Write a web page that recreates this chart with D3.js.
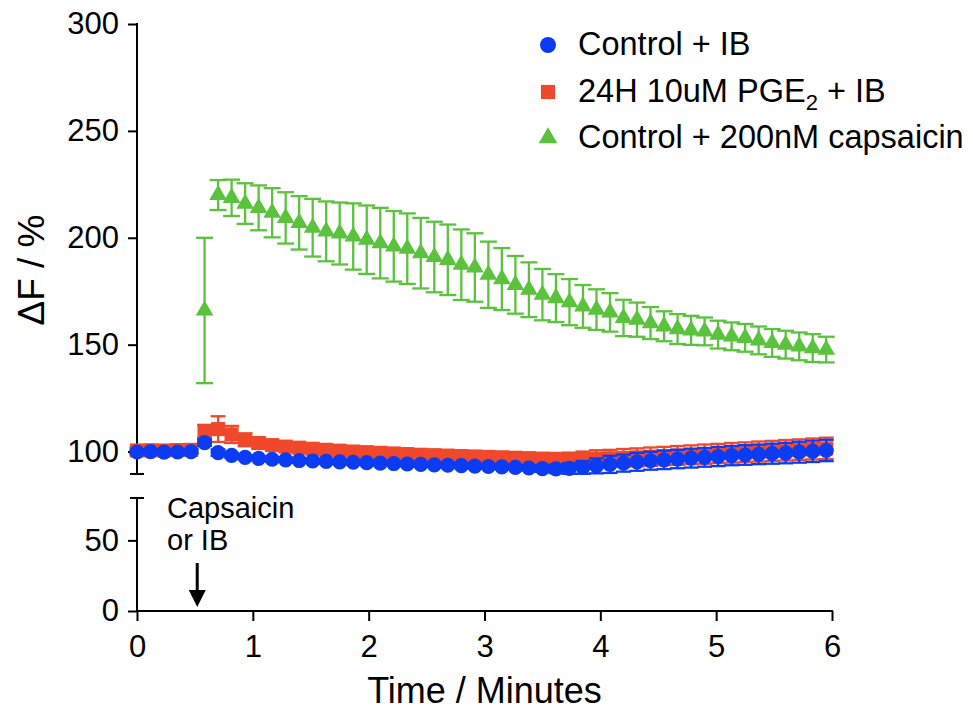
<!DOCTYPE html>
<html>
<head>
  <meta charset="utf-8">
  <script src="https://d3js.org/d3.v7.min.js"></script>
  <style>
    body { margin: 0; background: white; }
    svg { display: block; font-family: "Liberation Sans", Arial, Helvetica, sans-serif; }
    .axis path { display: none; }
    .axis line { stroke: #000; stroke-width: 2px; }
    .axis text { font-size: 31px; fill: #000; font-family: "Liberation Sans", Arial, Helvetica, sans-serif; }
  </style>
</head>
<body>
<script>
    // sample times in seconds (one frame every 7 s)
    var timeSec = [0,7,14,21,28,35,42,49,56,63,70,77,84,91,98,105,112,119,126,133,
                   140,147,154,161,168,175,182,189,196,203,210,217,224,231,238,245,252,259,266,273,
                   280,287,294,301,308,315,322,329,336,343,350,357];

    var seriesNames = ["Control + IB", "24H 10uM PGE2 + IB", "Control + 200nM capsaicin"];

    var controlIB = [99.8,100,99.7,99.8,100,104.2,99.5,98.2,97.3,96.8,
                     96.4,96.1,95.8,95.6,95.4,95.2,95.0,94.8,94.6,94.4,
                     94.2,94.0,93.8,93.6,93.4,93.2,93.0,92.8,92.6,92.3,
                     92.0,91.9,92.1,92.6,93.3,94.0,94.6,95.2,95.7,96.1,
                     96.5,96.9,97.3,97.7,98.1,98.4,98.7,99.0,99.3,99.7,
                     100.1,100.5];
    var controlIBErr = [1,1,1,1,1,1.5,1.5,1,1,1,
                        1,1,1,1,1,1,1,1,1,1,
                        1,1,1,1,1,1,1,1,1,1.2,
                        1.5,2,2.5,3,3.5,4,4,4.2,4.2,4.3,
                        4.3,4.4,4.4,4.5,4.5,4.6,4.6,4.7,4.8,4.9,
                        5,5];

    var pge2IB = [100.5,100.6,100.5,100.7,100.8,109.5,110.5,108,105.5,104,
                  103,102.3,101.8,101.3,100.8,100.4,100.0,99.7,99.4,99.1,
                  98.8,98.5,98.3,98.1,97.9,97.7,97.5,97.3,97.1,96.9,
                  96.7,96.6,96.5,96.5,96.6,96.8,97.0,97.3,97.6,97.9,
                  98.2,98.5,98.8,99.1,99.4,99.7,100.0,100.3,100.6,100.9,
                  101.2,101.5];
    var pge2IBErr = [1.5,1.5,1.5,1.5,1.5,3,6,4,3,2.5,
                     2,2,2,1.8,1.8,1.6,1.6,1.5,1.5,1.5,
                     1.5,1.5,1.5,1.5,1.5,1.5,1.5,1.5,1.5,1.8,
                     2,2.5,3,3.5,4,4,4.2,4.2,4.3,4.3,
                     4.4,4.4,4.5,4.5,4.6,4.6,4.7,4.7,4.8,4.8,
                     4.9,5];

    var capsaicin = [null,null,null,null,null,166,220,218.7,216,214,
                     211.7,209.3,207,204.7,203,202,200.6,199.1,197.5,196,
                     194.9,192.8,191,189.7,187.4,186.1,182.7,180.7,178,175.7,
                     173.4,171.8,169.9,167.9,166.4,165.1,162.5,161.7,160.1,158.6,
                     157.3,156.7,156.2,154.7,153.9,153.2,152,150.8,150,149.2,
                     148.4,147.7];
    var capsaicinErr = [null,null,null,null,null,34,7,8.5,9.5,10.5,
                        11.5,12,12.5,13.5,14,14.5,15.5,16,16.5,16.5,
                        16.5,16.5,16.5,16.5,16.5,16,15.5,14.5,13.5,12.8,
                        12,11.2,10.8,10,9.5,9,8.5,8,7.5,7,
                        7,6.8,6.5,6.5,6.5,6.5,6.5,6.5,6.5,6.5,
                        6.5,6];

    var xTicks = [0,1,2,3,4,5,6];
    var yTicksUpper = [100,150,200,250,300];
    var yTicksLower = [0,50];

    var width = 973, height = 710;

    var svgDoc = d3.select("body").append("svg")
        .attr("width", width)
        .attr("height", height);

    var x = d3.scaleLinear().domain([0, 6]).range([137, 832]);
    var yUp = d3.scaleLinear().domain([89.5, 300]).range([474, 24]);
    var yLow = d3.scaleLinear().domain([0, 80]).range([611, 498]);

    // axes
    var gx = svgDoc.append("g").attr("class", "axis")
        .attr("transform", "translate(0,611)")
        .call(d3.axisBottom(x).tickValues(xTicks).tickSize(10).tickPadding(14).tickFormat(d3.format("d")));
    gx.append("line").attr("x1", x(0) - 1).attr("x2", x(6) + 1).attr("y1", 0).attr("y2", 0);

    var gyUp = svgDoc.append("g").attr("class", "axis")
        .attr("transform", "translate(137,0)")
        .call(d3.axisLeft(yUp).tickValues(yTicksUpper).tickSize(9).tickPadding(9));
    gyUp.append("line").attr("x1", 0).attr("x2", 0).attr("y1", yUp(300) - 1).attr("y2", 474);
    gyUp.append("line").attr("x1", -7).attr("x2", 7).attr("y1", 474).attr("y2", 474);

    var gyLow = svgDoc.append("g").attr("class", "axis")
        .attr("transform", "translate(137,0)")
        .call(d3.axisLeft(yLow).tickValues(yTicksLower).tickSize(9).tickPadding(9));
    gyLow.append("line").attr("x1", 0).attr("x2", 0).attr("y1", 498).attr("y2", 612);
    gyLow.append("line").attr("x1", -7).attr("x2", 7).attr("y1", 498).attr("y2", 498);

    // axis titles
    svgDoc.append("text")
        .attr("x", x(3))
        .attr("y", 703)
        .attr("text-anchor", "middle")
        .style("font-size", "36px")
        .text("Time / Minutes");

    svgDoc.append("text")
        .attr("transform", "translate(44,270) rotate(-90)")
        .attr("text-anchor", "middle")
        .style("font-size", "37px")
        .text("\u0394F / %");

    // series
    var series = [
        {vals: capsaicin, err: capsaicinErr, color: "#5ac23c", shape: d3.symbolTriangle, size: 135, cap: 17},
        {vals: pge2IB, err: pge2IBErr, color: "#f0482a", shape: d3.symbolSquare, size: 200, cap: 15},
        {vals: controlIB, err: controlIBErr, color: "#0b3cf4", shape: d3.symbolCircle, size: 180, cap: 15}
    ];

    series.forEach(function(s) {
        var pts = timeSec.map(function(t, i) {
            return {t: t / 60, v: s.vals[i], e: s.err[i]};
        }).filter(function(d) { return d.v != null; });

        var g = svgDoc.append("g");
        var eb = g.selectAll(".eb").data(pts).enter().append("g")
            .attr("stroke", s.color).attr("stroke-width", 2.3);
        eb.append("line")
            .attr("x1", function(d){ return x(d.t); })
            .attr("x2", function(d){ return x(d.t); })
            .attr("y1", function(d){ return yUp(d.v - d.e); })
            .attr("y2", function(d){ return yUp(d.v + d.e); });
        eb.append("line")
            .attr("x1", function(d){ return x(d.t) - s.cap / 2; })
            .attr("x2", function(d){ return x(d.t) + s.cap / 2; })
            .attr("y1", function(d){ return yUp(d.v + d.e); })
            .attr("y2", function(d){ return yUp(d.v + d.e); });
        eb.append("line")
            .attr("x1", function(d){ return x(d.t) - s.cap / 2; })
            .attr("x2", function(d){ return x(d.t) + s.cap / 2; })
            .attr("y1", function(d){ return yUp(d.v - d.e); })
            .attr("y2", function(d){ return yUp(d.v - d.e); });

        g.selectAll("path").data(pts).enter().append("path")
            .attr("d", d3.symbol().type(s.shape).size(s.size))
            .attr("transform", function(d){ return "translate(" + x(d.t) + "," + yUp(d.v) + ")"; })
            .attr("fill", s.color);
    });

    // stimulus annotation
    var arrowX = x(0.52);
    svgDoc.append("text").attr("x", 167).attr("y", 518).style("font-size", "29px").text("Capsaicin");
    svgDoc.append("text").attr("x", 167).attr("y", 550).style("font-size", "29px").text("or IB");
    svgDoc.append("line")
        .attr("x1", arrowX).attr("x2", arrowX).attr("y1", 563).attr("y2", 595)
        .attr("stroke", "#000").attr("stroke-width", 3);
    svgDoc.append("path")
        .attr("d", "M" + (arrowX - 8.5) + ",590 L" + (arrowX + 8.5) + ",590 L" + arrowX + ",607 Z")
        .attr("fill", "#000");

    // legend
    var legendRows = [
        {shape: d3.symbolCircle, size: 200, color: "#0b3cf4", y: 45},
        {shape: d3.symbolSquare, size: 200, color: "#f0482a", y: 92},
        {shape: d3.symbolTriangle, size: 150, color: "#5ac23c", y: 138}
    ];
    var leg = svgDoc.append("g");
    legendRows.forEach(function(r, i) {
        leg.append("path")
            .attr("d", d3.symbol().type(r.shape).size(r.size))
            .attr("transform", "translate(548," + r.y + ")")
            .attr("fill", r.color);
        var t = leg.append("text").attr("x", 578).attr("y", r.y + 10).style("font-size", "32.5px");
        if (i == 1) {
            t.append("tspan").text("24H 10uM PGE");
            t.append("tspan").attr("dy", 8).style("font-size", "22px").text("2");
            t.append("tspan").attr("dy", -8).text(" + IB");
        } else {
            t.text(seriesNames[i]);
        }
    });
</script>
</body>
</html>
